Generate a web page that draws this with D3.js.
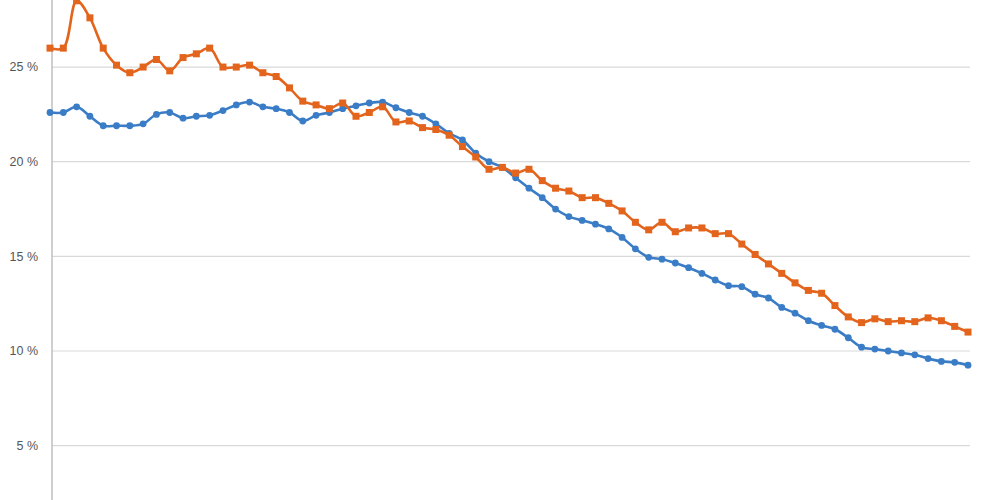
<!DOCTYPE html>
<html>
<head>
<meta charset="utf-8">
<script src="https://cdn.jsdelivr.net/npm/d3@7"></script>
<style>
  body { margin: 0; background: #fff; }
  .tick-label { font-family: "Liberation Sans", Arial, sans-serif; font-size: 12.5px; fill: #555; }
</style>
</head>
<body>
<div id="chart"></div>
<script>
// values, in percent
const orangeSeries = [26.0, 26.0, 28.5, 27.6, 26.0, 25.1, 24.7, 25.0, 25.4, 24.8,
    25.5, 25.7, 26.0, 25.0, 25.0, 25.1, 24.7, 24.5, 23.9, 23.2,
    23.0, 22.8, 23.1, 22.4, 22.6, 22.9, 22.1, 22.15, 21.8, 21.7,
    21.4, 20.8, 20.25, 19.6, 19.7, 19.4, 19.6, 19.0, 18.6, 18.45,
    18.1, 18.1, 17.8, 17.4, 16.8, 16.4, 16.8, 16.3, 16.5, 16.5,
    16.2, 16.2, 15.65, 15.1, 14.6, 14.1, 13.6, 13.2, 13.05, 12.4,
    11.8, 11.5, 11.7, 11.55, 11.6, 11.55, 11.75, 11.6, 11.3, 11.0];

const blueSeries = [22.6, 22.6, 22.9, 22.4, 21.9, 21.9, 21.9, 22.0, 22.5, 22.6,
    22.3, 22.4, 22.45, 22.7, 23.0, 23.15, 22.9, 22.8, 22.6, 22.15,
    22.45, 22.6, 22.8, 22.95, 23.1, 23.15, 22.85, 22.6, 22.4, 22.0,
    21.5, 21.15, 20.45, 20.0, 19.7, 19.15, 18.6, 18.1, 17.5, 17.1,
    16.9, 16.7, 16.45, 16.0, 15.4, 14.95, 14.85, 14.65, 14.4, 14.1,
    13.75, 13.45, 13.4, 13.0, 12.8, 12.3, 12.0, 11.6, 11.35, 11.15,
    10.7, 10.2, 10.1, 10.0, 9.9, 9.8, 9.6, 9.45, 9.4, 9.25];

const yTicks = [5, 10, 15, 20, 25];

const width = 1000, height = 500;
const plotLeft = 52, plotRight = 970;

const svg = d3.select('#chart')
    .append('svg')
        .attr('width', width)
        .attr('height', height);

const xScale = d3.scaleLinear()
    .domain([0, blueSeries.length - 1])
    .range([50, 968]);

// 0 % sits just below the visible area
const yScale = d3.scaleLinear()
    .domain([0, 30])
    .range([540.3, 540.3 - 30 * 18.93]);

// gridlines
svg.append('g')
    .selectAll('line')
    .data(yTicks)
    .join('line')
        .attr('x1', plotLeft)
        .attr('x2', plotRight)
        .attr('y1', d => yScale(d))
        .attr('y2', d => yScale(d))
        .attr('stroke', '#d9d9d9')
        .attr('stroke-width', 1.2);

// y tick labels
svg.append('g')
    .selectAll('text')
    .data(yTicks)
    .join('text')
        .attr('class', 'tick-label')
        .attr('x', 38)
        .attr('y', d => yScale(d))
        .attr('dy', '0.35em')
        .attr('text-anchor', 'end')
        .text(d => `${d} %`);

// y axis line
svg.append('line')
    .attr('x1', plotLeft).attr('x2', plotLeft)
    .attr('y1', 0).attr('y2', height)
    .attr('stroke', '#bfbfbf')
    .attr('stroke-width', 1.5);

const line = d3.line()
    .x((d, i) => xScale(i))
    .y(d => yScale(d))
    .curve(d3.curveCatmullRom.alpha(0.5));

const blue = '#3a7dc6';
const orange = '#e3641c';

// blue series with round markers
svg.append('path')
    .datum(blueSeries)
    .attr('fill', 'none')
    .attr('stroke', blue)
    .attr('stroke-width', 2.6)
    .attr('d', line);

svg.append('g')
    .selectAll('circle')
    .data(blueSeries)
    .join('circle')
        .attr('cx', (d, i) => xScale(i))
        .attr('cy', d => yScale(d))
        .attr('r', 3.4)
        .attr('fill', blue);

// orange series with square markers
svg.append('path')
    .datum(orangeSeries)
    .attr('fill', 'none')
    .attr('stroke', orange)
    .attr('stroke-width', 2.6)
    .attr('d', line);

const sq = 7;
svg.append('g')
    .selectAll('rect')
    .data(orangeSeries)
    .join('rect')
        .attr('x', (d, i) => xScale(i) - sq / 2)
        .attr('y', d => yScale(d) - sq / 2)
        .attr('width', sq)
        .attr('height', sq)
        .attr('fill', orange);
</script>
</body>
</html>
